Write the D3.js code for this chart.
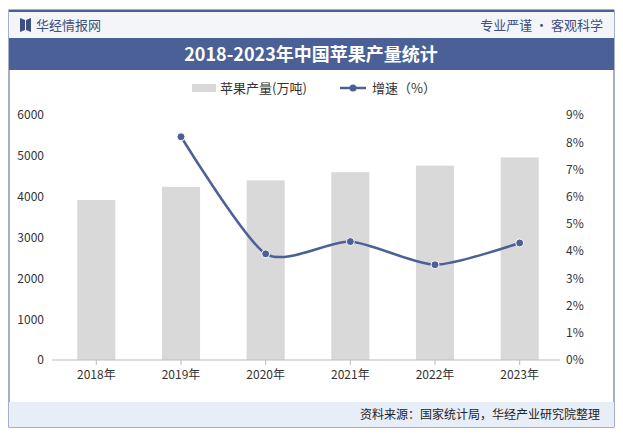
<!DOCTYPE html><html><head><meta charset="utf-8"><script src="https://cdn.jsdelivr.net/npm/d3@7"></script>
<style>body{margin:0;background:#fff}text{font-family:"Noto Sans CJK SC",sans-serif}</style></head><body><svg id="c" width="623" height="437"></svg>
<script>
const years=["2018年","2019年","2020年","2021年","2022年","2023年"];
const output=[3920,4240,4400,4600,4760,4960];
const growth=[null,8.2,3.9,4.35,3.5,4.3];
const leftTicks=[0,1000,2000,3000,4000,5000,6000];
const rightTicks=[0,1,2,3,4,5,6,7,8,9];
const svg=d3.select("#c");
const blue="#4a6096";
svg.append("rect").attr("x",9).attr("y",10).attr("width",605).attr("height",417).attr("fill","#fff").attr("stroke","#4a6096").attr("stroke-width",1);
svg.append("rect").attr("x",9).attr("y",10).attr("width",605).attr("height",2).attr("fill",blue);
svg.append("rect").attr("x",9).attr("y",12).attr("width",605).attr("height",26).attr("fill","#f3f5f9");
svg.append("path").attr("d","M20,18 L25,20 L25,30 L20,32Z M26,20 L31,18 L31,32 L26,30Z").attr("fill","#3c4f80");
svg.append("text").attr("x",36).attr("y",30).attr("font-size",13).attr("fill","#3c4f80").text("华经情报网");
svg.append("text").attr("x",603).attr("y",30).attr("text-anchor","end").attr("font-size",13).attr("fill","#3c4f80").text("专业严谨 • 客观科学");
svg.append("rect").attr("x",9).attr("y",38).attr("width",605).attr("height",32).attr("fill",blue);
svg.append("text").attr("x",311).attr("y",61).attr("text-anchor","middle").attr("font-size",18).attr("font-weight","bold").attr("fill","#fff").attr("font-family","Noto Serif CJK SC, Noto Sans CJK SC").text("2018-2023年中国苹果产量统计");
svg.append("rect").attr("x",9).attr("y",402).attr("width",605).attr("height",25).attr("fill","#e8eef8");
svg.append("text").attr("x",600).attr("y",419).attr("text-anchor","end").attr("font-size",12).attr("fill","#222").text("资料来源：国家统计局，华经产业研究院整理");
svg.append("rect").attr("x",192).attr("y",84).attr("width",24).attr("height",8).attr("fill","#d9d9d9");
svg.append("text").attr("x",220).attr("y",93).attr("font-size",13).attr("fill","#333").text("苹果产量(万吨)");
svg.append("line").attr("x1",340).attr("x2",366).attr("y1",88).attr("y2",88).attr("stroke",blue).attr("stroke-width",2.5);
svg.append("circle").attr("cx",353).attr("cy",88).attr("r",3.5).attr("fill",blue);
svg.append("text").attr("x",372).attr("y",93).attr("font-size",13).attr("fill","#333").text("增速（%）");
const x=d3.scaleBand().domain(years).range([54,562]).paddingInner(0.55).paddingOuter(0.275);
const y=d3.scaleLinear().domain([0,6000]).range([360,115]);
const y2=d3.scaleLinear().domain([0,9]).range([360,115]);
const ga=svg.append("g").attr("transform","translate(52,0)").call(d3.axisLeft(y).tickValues(leftTicks).tickFormat(d3.format("d")).tickSize(0).tickPadding(8));
ga.select(".domain").remove();
const gr=svg.append("g").attr("transform","translate(560,0)").call(d3.axisRight(y2).tickValues(rightTicks).tickFormat(d=>d+"%").tickSize(0).tickPadding(6));
gr.select(".domain").remove();
svg.selectAll(".tick text").attr("font-size",12).attr("fill","#333").attr("font-family","Noto Sans CJK SC");
svg.selectAll(".bar").data(output).join("rect").attr("x",(d,i)=>x(years[i])).attr("width",x.bandwidth()).attr("y",d=>y(d)).attr("height",d=>360-y(d)).attr("fill","#d9d9d9");
svg.append("line").attr("x1",52).attr("x2",560).attr("y1",360).attr("y2",360).attr("stroke","#bbb");
const gx=svg.append("g").attr("transform","translate(0,360)").call(d3.axisBottom(x).tickSize(5).tickPadding(5));
gx.select(".domain").remove();gx.selectAll("line").attr("stroke","#bbb");
gx.selectAll("text").attr("font-size",12).attr("fill","#333").attr("font-family","Noto Sans CJK SC");
const pts=growth.map((g,i)=>[x(years[i])+x.bandwidth()/2,g]).filter(p=>p[1]!=null).map(p=>[p[0],y2(p[1])]);
svg.append("path").attr("d",d3.line().curve(d3.curveCardinal.tension(0.3))(pts)).attr("fill","none").attr("stroke",blue).attr("stroke-width",2.5);
svg.selectAll(".pt").data(pts).join("circle").attr("cx",d=>d[0]).attr("cy",d=>d[1]).attr("r",4).attr("fill",blue).attr("stroke","#fff").attr("stroke-width",1);
</script></body></html>
